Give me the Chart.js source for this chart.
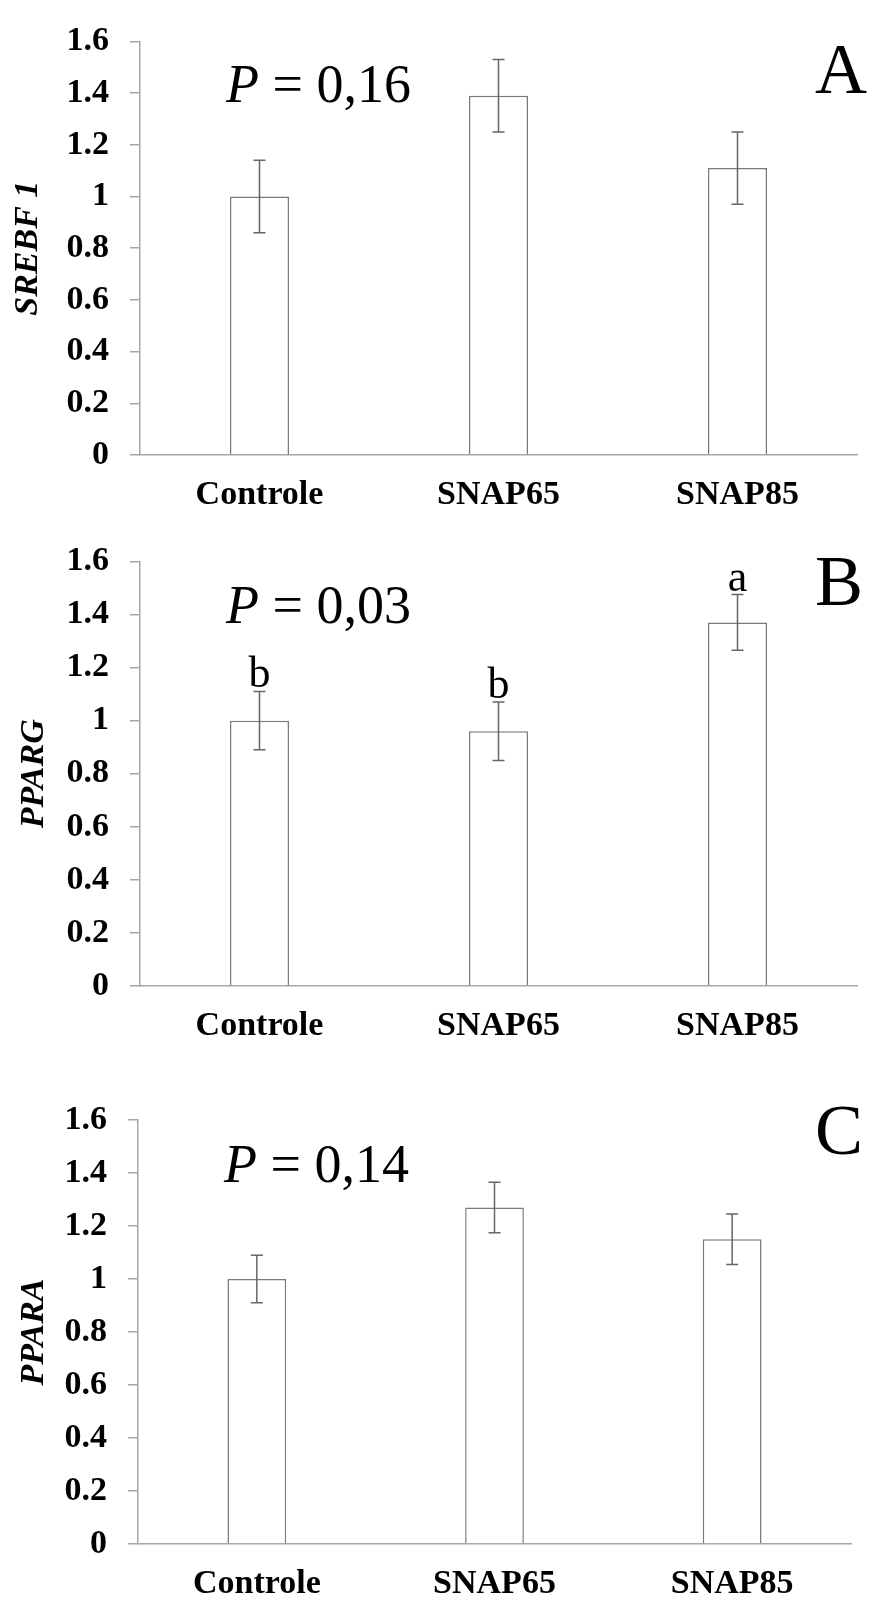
<!DOCTYPE html>
<html>
<head>
<meta charset="utf-8">
<script src="https://cdn.jsdelivr.net/npm/chart.js@4.4.0/dist/chart.umd.min.js"></script>
<style>
  html, body { margin: 0; padding: 0; background: #fff; }
  #wrap { position: relative; width: 873px; height: 1609px; }
  canvas { position: absolute; left: 0; }
</style>
</head>
<body>
<div id="wrap">
  <canvas id="chartA" width="873" height="520" style="top:0px"></canvas>
  <canvas id="chartB" width="873" height="540" style="top:520px"></canvas>
  <canvas id="chartC" width="873" height="549" style="top:1060px"></canvas>
</div>
<script>
const categories = ['Controle', 'SNAP65', 'SNAP85'];

const srebf1 = [1.0, 1.39, 1.11];
const srebf1Err = [0.14, 0.14, 0.14];

const pparg = [1.0, 0.96, 1.37];
const ppargErr = [0.11, 0.11, 0.105];
const ppargLetters = ['b', 'b', 'a'];

const ppara = [1.0, 1.27, 1.15];
const pparaErr = [0.09, 0.095, 0.095];

const yMin = 0;
const yMax = 1.6;
const yStep = 0.2;

const SERIF = "'Liberation Serif', 'Times New Roman', serif";
const AXIS_GRAY = '#a6a6a6';
const BAR_GRAY = '#7a7a7a';
const ERR_GRAY = '#666666';

// error bars, significance letters, P value and panel letter
const annotations = {
    id: 'annotations',
    afterDatasetsDraw(chart, args, opts) {
        const ctx = chart.ctx;
        const y = chart.scales.y;
        const meta = chart.getDatasetMeta(0);
        const values = chart.data.datasets[0].data;

        ctx.save();
        ctx.strokeStyle = ERR_GRAY;
        ctx.lineWidth = 1.5;
        opts.err.forEach((e, i) => {
            const cx = meta.data[i].x;
            const top = y.getPixelForValue(values[i] + e);
            const bot = y.getPixelForValue(values[i] - e);
            ctx.beginPath();
            ctx.moveTo(cx, top); ctx.lineTo(cx, bot);
            ctx.moveTo(cx - 6, top); ctx.lineTo(cx + 6, top);
            ctx.moveTo(cx - 6, bot); ctx.lineTo(cx + 6, bot);
            ctx.stroke();

            if (opts.letters) {
                ctx.fillStyle = '#000';
                ctx.font = `44px ${SERIF}`;
                ctx.textAlign = 'center';
                ctx.textBaseline = 'alphabetic';
                ctx.fillText(opts.letters[i], cx, top - 4);
            }
        });

        // P = ...
        ctx.fillStyle = '#000';
        ctx.textAlign = 'left';
        ctx.textBaseline = 'middle';
        const px = chart.chartArea.left + 86;
        const py = y.getPixelForValue(opts.pAt);
        ctx.font = `italic 54px ${SERIF}`;
        ctx.fillText('P', px, py);
        const pw = ctx.measureText('P').width;
        ctx.font = `54px ${SERIF}`;
        ctx.fillText(' = ' + opts.pText, px + pw, py);

        // panel letter
        ctx.font = `72px ${SERIF}`;
        ctx.textBaseline = 'alphabetic';
        ctx.fillText(opts.panel, 815, opts.panelBase);
        ctx.restore();
    }
};

function makeChart(id, values, err, opts) {
    const ctx = document.getElementById(id).getContext('2d');
    const canvasH = ctx.canvas.height;

    return new Chart(ctx, {
        type: 'bar',
        data: {
            labels: categories,
            datasets: [{
                data: values,
                backgroundColor: '#ffffff',
                borderColor: BAR_GRAY,
                borderWidth: 1.5,
                barPercentage: 0.247,
                categoryPercentage: 1
            }]
        },
        plugins: [annotations],
        options: {
            responsive: false,
            animation: false,
            devicePixelRatio: 1,
            layout: { padding: { top: opts.top, right: opts.right, left: 0, bottom: 0 } },
            plugins: {
                legend: { display: false },
                tooltip: { enabled: false },
                annotations: {
                    err: err,
                    letters: opts.letters,
                    pText: opts.pText,
                    pAt: 1.42,
                    panel: opts.panel,
                    panelBase: opts.panelBase
                }
            },
            scales: {
                x: {
                    grid: { display: false, drawTicks: false },
                    border: { display: true, color: AXIS_GRAY, width: 1.5 },
                    ticks: {
                        color: '#000',
                        padding: 20,
                        font: { family: SERIF, size: 34, weight: 'bold' }
                    },
                    afterFit: (s) => { s.height = canvasH - opts.bottom; }
                },
                y: {
                    min: yMin,
                    max: yMax,
                    ticks: {
                        stepSize: yStep,
                        color: '#000',
                        padding: 21,
                        font: { family: SERIF, size: 34, weight: 'bold' },
                        callback: (v) => String(Number(v.toFixed(1)))
                    },
                    grid: {
                        drawOnChartArea: false,
                        drawTicks: true,
                        tickLength: 10,
                        color: AXIS_GRAY,
                        lineWidth: 1.5
                    },
                    border: { display: true, color: AXIS_GRAY, width: 1.5 },
                    title: {
                        display: true,
                        text: opts.yTitle,
                        color: '#000',
                        padding: { top: opts.titlePad, bottom: 0 },
                        font: { family: SERIF, size: 34, weight: 'bold', style: 'italic' }
                    },
                    afterFit: (s) => { s.width = opts.left; }
                }
            }
        }
    });
}

makeChart('chartA', srebf1, srebf1Err, {
    top: 25, bottom: 455, left: 140, right: 16,
    yTitle: 'SREBF 1', titlePad: 8,
    pText: '0,16', panel: 'A', panelBase: 93
});

makeChart('chartB', pparg, ppargErr, {
    top: 33, bottom: 466, left: 140, right: 16,
    yTitle: 'PPARG', titlePad: 14, letters: ppargLetters,
    pText: '0,03', panel: 'B', panelBase: 85
});

makeChart('chartC', ppara, pparaErr, {
    top: 60, bottom: 484, left: 138, right: 22,
    yTitle: 'PPARA', titlePad: 14,
    pText: '0,14', panel: 'C', panelBase: 94
});
</script>
</body>
</html>
